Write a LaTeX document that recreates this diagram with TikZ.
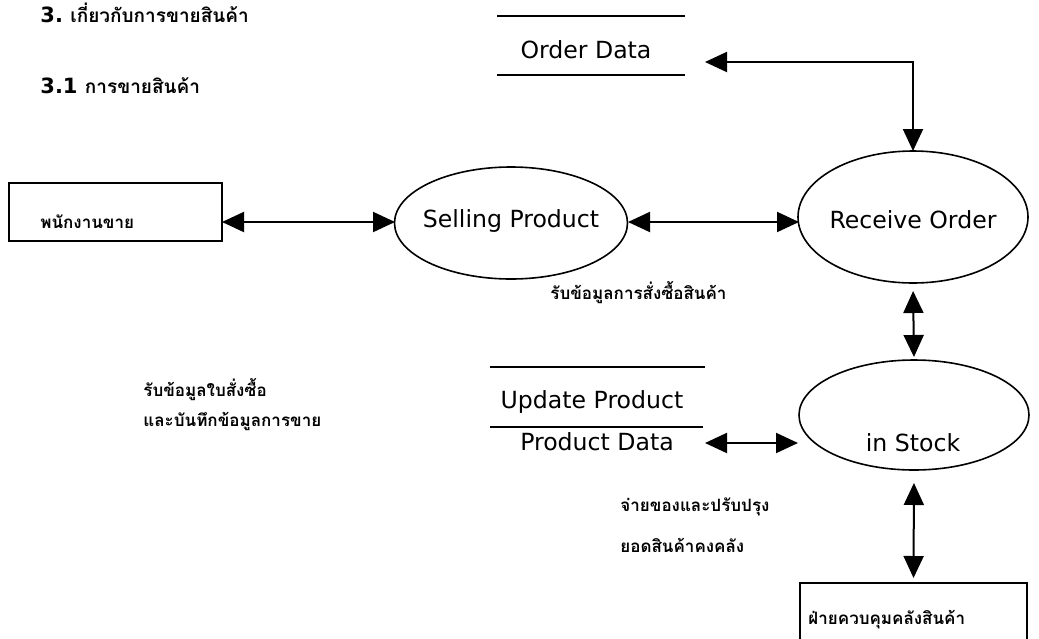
\documentclass[tikz,border=0pt]{standalone}
\usepackage{fontspec}
\setmainfont{DejaVu Sans}
\newfontfamily\thai[Script=Thai]{Loma}
\usetikzlibrary{arrows.meta,shapes.geometric}
\begin{document}
\begin{tikzpicture}[x=0.5pt,y=-0.5pt,
  proc/.style={draw,ellipse,line width=0.8pt,inner sep=0pt,outer sep=0pt},
  ent/.style={draw,rectangle,line width=0.8pt,inner sep=0pt,outer sep=0pt,anchor=north west},
  lbl/.style={font=\fontsize{11.8}{13}\selectfont,inner sep=0pt},
  th/.style={font=\thai\bfseries\fontsize{8.5}{10}\selectfont,inner sep=0pt,anchor=west},
  store/.style={line width=1pt},
  dbl/.style={{Triangle[length=11pt,width=10pt]}-{Triangle[length=11pt,width=10pt]},line width=1pt}]
\useasboundingbox (0,0) rectangle (1039,638);
\clip (0,0) rectangle (1039,638);

% headings
\node[anchor=west,inner sep=0pt] (h1) at (40,13)
  {\fontsize{10.5}{12}\selectfont\bfseries 3.\ {\thai\bfseries\fontsize{9.5}{11}\selectfont เกี่ยวกับการขายสินค้า}};
\node[anchor=west,inner sep=0pt] (h2) at (40,86)
  {\fontsize{10.5}{12}\selectfont\bfseries 3.1 {\thai\bfseries\fontsize{9.5}{11}\selectfont การขายสินค้า}};

% external entities
\node[ent,minimum width=106.5pt,minimum height=29pt] (emp) at (9,183) {};
\node[th] (empt) at (40,222) {พนักงานขาย};
\node[ent,minimum width=113.5pt,minimum height=40pt] (ware) at (800,583) {};
\node[th] (waret) at (808,620) {ฝ่ายควบคุมคลังสินค้า};

% processes
\node[proc,minimum width=116.5pt,minimum height=56pt] (sell) at (511,223) {};
\node[lbl] (sellt) at (511,221) {Selling Product};
\node[proc,minimum width=115pt,minimum height=66pt] (recv) at (913,217) {};
\node[lbl] (recvt) at (913,220) {Receive Order};
\node[proc,minimum width=115pt,minimum height=55pt] (stock) at (914,415) {};
\node[lbl] (stockt) at (913,443) {in Stock};

% data stores
\coordinate (od1) at (497,16); \coordinate (od2) at (685,16);
\coordinate (od3) at (497,75); \coordinate (od4) at (685,75);
\draw[store] (od1) -- (od2);
\draw[store] (od3) -- (od4);
\node[lbl] (od) at (586,50) {Order Data};

\coordinate (up1) at (490,367); \coordinate (up2) at (705,367);
\coordinate (up3) at (490,427); \coordinate (up4) at (703,427);
\draw[store] (up1) -- (up2);
\draw[store] (up3) -- (up4);
\node[lbl] (upd) at (592,402) {Update Product};
\node[lbl] (pd) at (597,442) {Product Data};

% free texts
\node[th] (t1) at (550,293) {รับข้อมูลการสั่งซื้อสินค้า};
\node[th] (t2) at (143,390) {รับข้อมูลใบสั่งซื้อ};
\node[th] (t3) at (143,421) {และบันทึกข้อมูลการขาย};
\node[th] (t4) at (620,507) {จ่ายของและปรับปรุง};
\node[th] (t5) at (620,545) {ยอดสินค้าคงคลัง};

% connectors
\coordinate (a1) at (222,222);
\coordinate (a2) at (395,222);
\draw[dbl] (a1) -- (a2);
\coordinate (b1) at (628,222);
\coordinate (b2) at (799,222);
\draw[dbl] (b1) -- (b2);
\coordinate (odtip) at (705,62);
\draw[dbl] (odtip) -| (recv.north);
\draw[dbl,shorten <=4pt,shorten >=1.5pt] (recv.south) -- (stock.north);
\draw[dbl,shorten <=6.5pt,shorten >=2.5pt] (stock.south) -- (ware.north);
\coordinate (pdtip) at (705,443);
\coordinate (sttip) at (798,443);
\draw[dbl] (pdtip) -- (sttip);
\end{tikzpicture}
\end{document}
